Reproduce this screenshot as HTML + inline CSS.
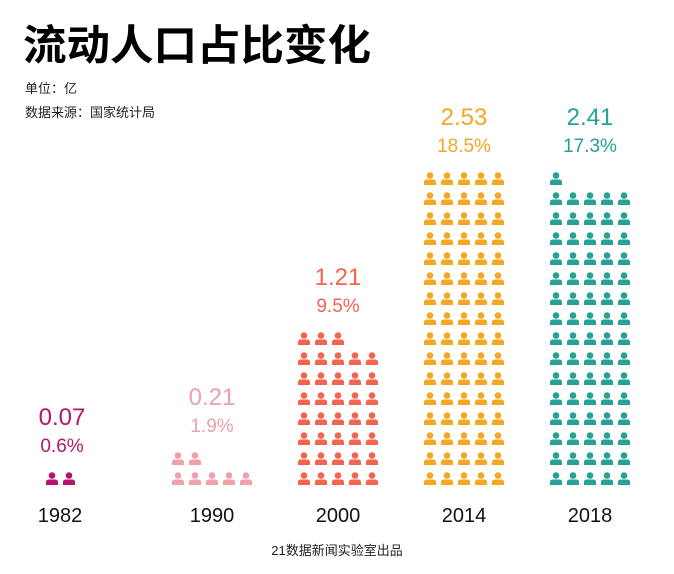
<!DOCTYPE html>
<html><head><meta charset="utf-8">
<style>
body{margin:0;background:#fff;width:674px;height:574px;overflow:hidden;font-family:"Liberation Sans","Noto Sans CJK SC",sans-serif;}
svg{display:block}
</style></head>
<body>
<svg id="chart" width="674" height="574" viewBox="0 0 674 574">
<text x="23" y="60" font-size="42" font-weight="bold" font-family="'Noto Sans CJK SC',sans-serif" fill="#000" textLength="348" lengthAdjust="spacingAndGlyphs">流动人口占比变化</text>
<text x="25" y="93" font-size="13" fill="#222" font-family="'Liberation Sans','Noto Sans CJK SC',sans-serif">单位：亿</text>
<text x="25" y="117" font-size="13" fill="#222" font-family="'Liberation Sans','Noto Sans CJK SC',sans-serif">数据来源：国家统计局</text>
<text x="337" y="555" text-anchor="middle" font-size="13" fill="#222" font-family="'Liberation Sans','Noto Sans CJK SC',sans-serif">21数据新闻实验室出品</text>
<g id="marks"></g>
</svg>
<script>
const years = ['1982','1990','2000','2014','2018'];
const values = ['0.07','0.21','1.21','2.53','2.41'];
const shares = ['0.6%','1.9%','9.5%','18.5%','17.3%'];
const iconCounts = [2,7,38,80,76];
const colors = ['#b5166b','#f0a0ab','#f4644f','#f5a623','#26a195'];

const ns='http://www.w3.org/2000/svg';
const g=document.getElementById('marks');
const groupX0=52, groupStep=126, colStep=17, rowStep=20, bottomY=479;
function xGroup(i){return groupX0+i*groupStep;}
function mk(tag,attrs){const e=document.createElementNS(ns,tag);for(const k in attrs)e.setAttribute(k,attrs[k]);return e;}
years.forEach((yr,i)=>{
  const n=iconCounts[i], full=Math.floor(n/5), rem=n%5;
  const rows=full+(rem?1:0);
  const grp=mk('g',{});
  
  
  g.appendChild(grp);
  for(let k=0;k<n;k++){
    const r=Math.floor(k/5), c=k%5;
    const cx=xGroup(i)+c*colStep, cy=bottomY-r*rowStep;
    const ic=mk('g',{fill:colors[i]});
    
    
    ic.appendChild(mk('circle',{cx:cx,cy:cy-3.5,r:3.3}));
    ic.appendChild(mk('path',{d:`M${cx-6} ${cy+6} L${cx-6} ${cy+3} Q${cx-6} ${cy+0.5} ${cx-3} ${cy+0.5} L${cx+3} ${cy+0.5} Q${cx+6} ${cy+0.5} ${cx+6} ${cy+3} L${cx+6} ${cy+6} Z`}));
    grp.appendChild(ic);
  }
  const topY=bottomY-(rows-1)*rowStep;
  const lx = i===0 ? 62 : xGroup(i)+2*colStep;
  const v=mk('text',{x:lx,y:topY-54,'text-anchor':'middle','font-size':24,fill:colors[i]});
  v.textContent=values[i];
  
  
  g.appendChild(v);
  const s=mk('text',{x:lx,y:topY-27,'text-anchor':'middle','font-size':19,fill:colors[i]});
  s.textContent=shares[i];
  
  
  g.appendChild(s);
  const t=mk('text',{x: i===0?60:xGroup(i)+2*colStep,y:522,'text-anchor':'middle','font-size':20,fill:'#111'});
  t.textContent=yr;
  
  
  g.appendChild(t);
});
</script>
</body></html>
